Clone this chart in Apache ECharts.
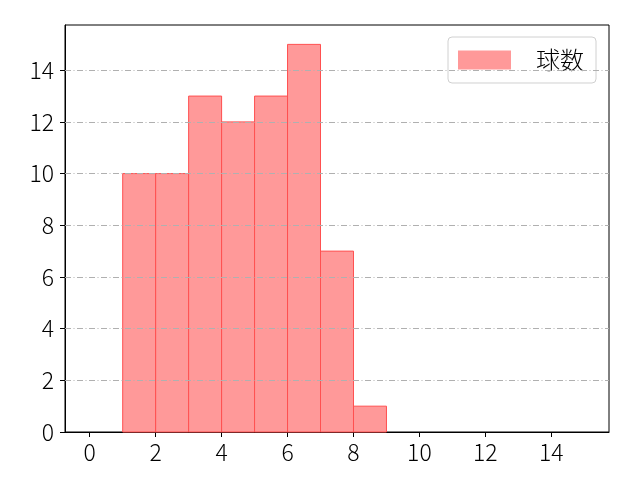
<!DOCTYPE html>
<html>
<head>
<meta charset="utf-8">
<script src="https://cdn.jsdelivr.net/npm/echarts@6/dist/echarts.min.js"></script>
<style>
html, body { margin: 0; padding: 0; background: #fff; }
#main { width: 640px; height: 480px; }
</style>
</head>
<body>
<div id="main"></div>
<script>
var binStarts = [1, 2, 3, 4, 5, 6, 7, 8];
var binEnds = [2, 3, 4, 5, 6, 7, 8, 9];
var counts = [10, 10, 13, 12, 13, 15, 7, 1];
var xTicks = [0, 2, 4, 6, 8, 10, 12, 14];
var yTicks = [0, 2, 4, 6, 8, 10, 12, 14];
var seriesName = '球数';

var chart = echarts.init(document.getElementById('main'));

var bars = [];
for (var i = 0; i < counts.length; i++) {
	bars.push([binStarts[i], binEnds[i], counts[i]]);
}

var font = '"Noto Sans CJK JP", "DejaVu Sans", sans-serif';

var option = {
	animation: false,
	textStyle: { fontFamily: font },
	grid: {
		left: 65, right: 31, top: 25, bottom: 48,
		show: true, borderColor: '#000', borderWidth: 1,
		backgroundColor: 'transparent'
	},
	legend: {
		right: 44, top: 37,
		itemWidth: 53, itemHeight: 19,
		padding: [11, 12, 11, 10],
		borderColor: '#d0d0d0', borderWidth: 1, borderRadius: 4,
		backgroundColor: '#fff',
		textStyle: { fontSize: 24, fontWeight: 300, color: '#000', fontFamily: font, padding: [0, 0, 0, 20] },
		data: [{ name: seriesName, icon: 'rect' }]
	},
	xAxis: {
		type: 'value',
		min: -0.75, max: 15.75,
		splitLine: { show: false },
		axisLine: { show: true, onZero: false, lineStyle: { color: '#000' } },
		axisTick: { show: true, length: 5, lineStyle: { color: '#000' }, customValues: xTicks },
		axisLabel: { color: '#000', fontSize: 23, fontWeight: 300, margin: 9, customValues: xTicks, fontFamily: font }
	},
	yAxis: {
		type: 'value',
		min: 0, max: 15.75,
		axisLine: { show: true, onZero: false, lineStyle: { color: '#000' } },
		axisTick: { show: true, length: 5, lineStyle: { color: '#000' }, customValues: yTicks },
		axisLabel: { color: '#000', fontSize: 23, fontWeight: 300, margin: 11, customValues: yTicks, fontFamily: font },
		splitLine: { show: false }
	},
	series: [
		{
			name: seriesName,
			type: 'custom',
			itemStyle: { color: '#ff9999', borderColor: '#ff5050' },
			renderItem: function (params, api) {
				var p0 = api.coord([api.value(0), api.value(2)]);
				var p1 = api.coord([api.value(1), 0]);
				return {
					type: 'rect',
					shape: { x: p0[0], y: p0[1], width: p1[0] - p0[0], height: p1[1] - p0[1] },
					style: { fill: '#ff9999', stroke: '#ff5050', lineWidth: 1 }
				};
			},
			encode: { x: [0, 1], y: 2 },
			data: bars,
			z: 2
		},
		{
			// 横方向のグリッド線（一点鎖線）
			type: 'line',
			silent: true,
			data: [],
			markLine: {
				silent: true,
				symbol: 'none',
				label: { show: false },
				lineStyle: { color: '#b0b0b0', width: 1, type: [6, 2.5, 1, 2.5] },
				data: yTicks.slice(1).map(function (v) { return { yAxis: v }; })
			},
			z: 3
		}
	]
};

chart.setOption(option);
</script>
</body>
</html>
